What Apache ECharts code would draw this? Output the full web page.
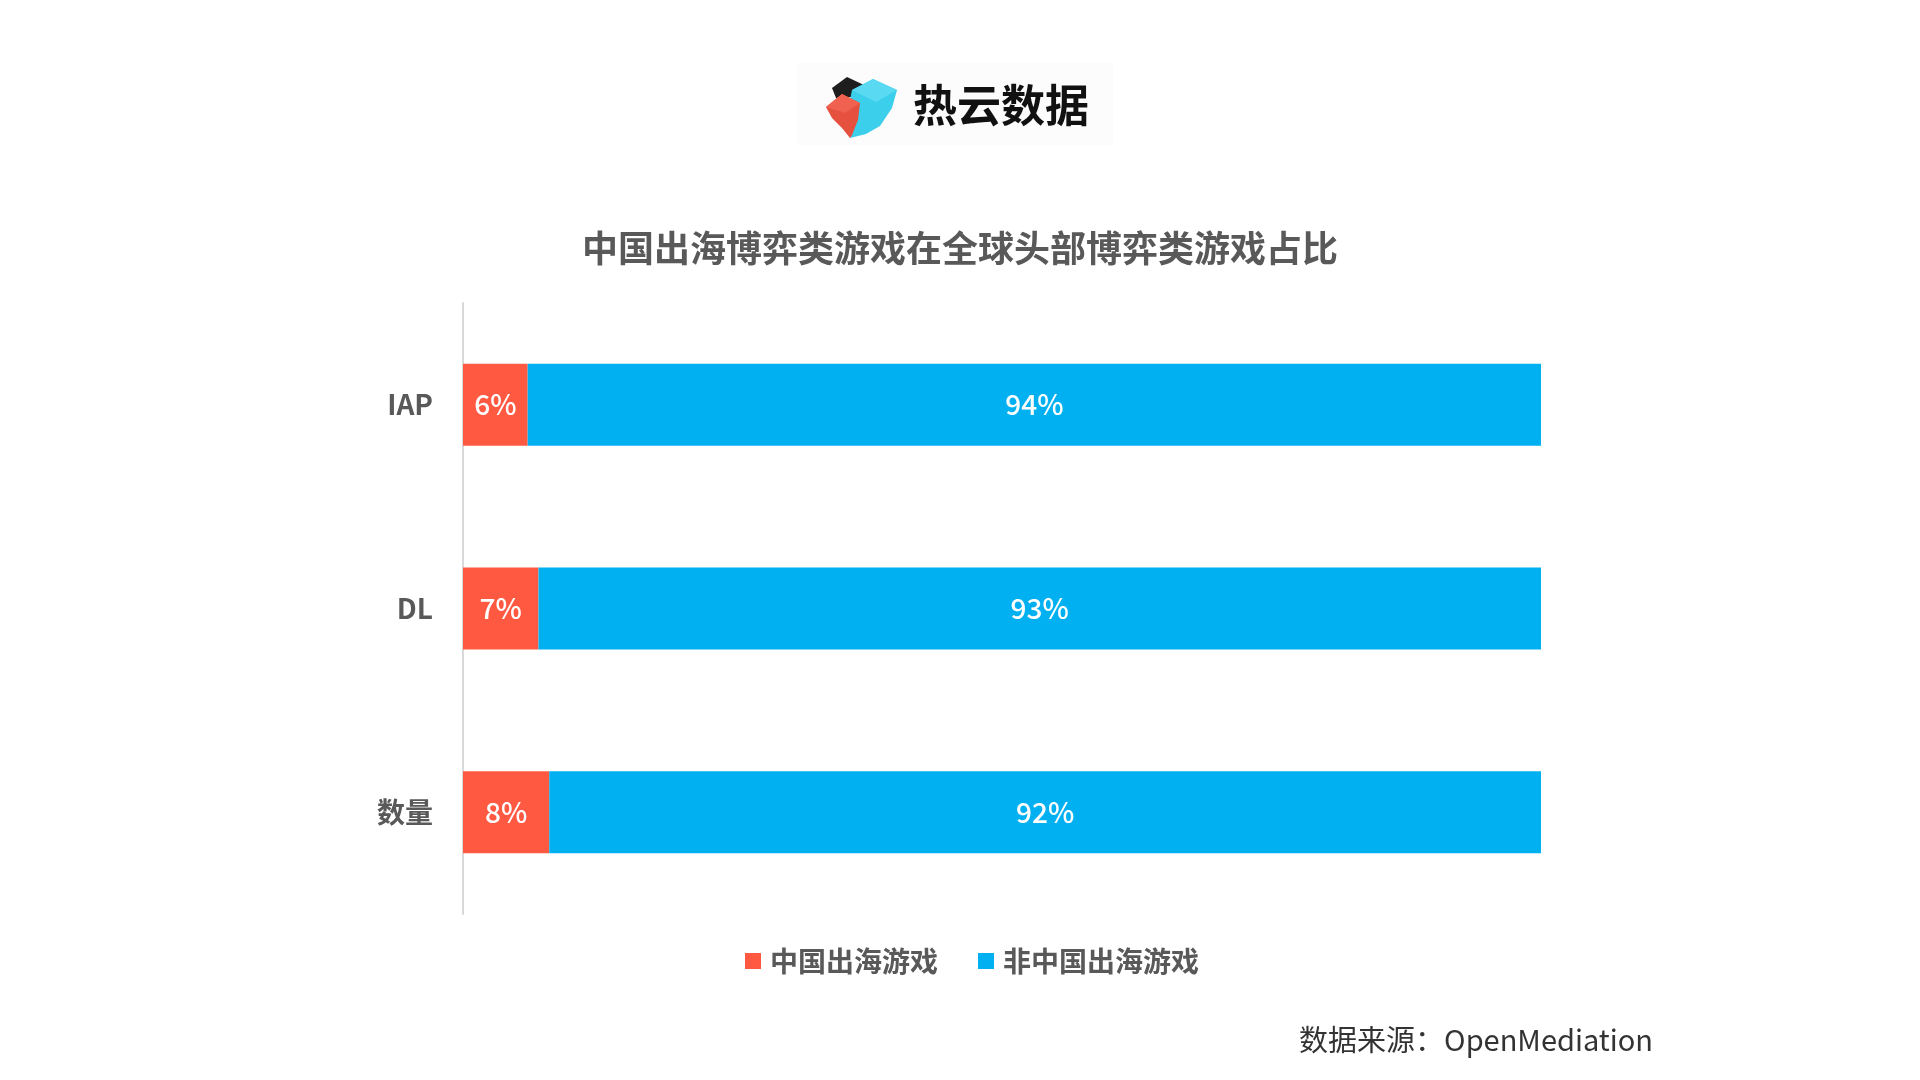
<!DOCTYPE html>
<html>
<head>
<meta charset="utf-8">
<script src="https://cdn.jsdelivr.net/npm/echarts@6/dist/echarts.min.js"></script>
<style>
html,body{margin:0;padding:0;background:#ffffff;}
#chart{width:1920px;height:1080px;}
</style>
</head>
<body>
<div id="chart"></div>
<script>
var categories = ['IAP', 'DL', '数量'];
var chinaValues = [6, 7, 8];
var nonChinaValues = [94, 93, 92];
var seriesNames = ['中国出海游戏', '非中国出海游戏'];
var titleText = '中国出海博弈类游戏在全球头部博弈类游戏占比';
var sourceText = '数据来源：OpenMediation';
var logoText = '热云数据';

var FONT = '"Noto Sans CJK SC", "Noto Sans", sans-serif';
var chart = echarts.init(document.getElementById('chart'));

var option = {
  backgroundColor: '#ffffff',
  animation: false,
  title: {
    text: titleText,
    left: 'center',
    top: 225,
    textStyle: { fontFamily: FONT, fontSize: 36, fontWeight: 'bold', color: '#595959' }
  },
  legend: {
    data: seriesNames,
    left: 740,
    top: 942,
    itemWidth: 16,
    itemHeight: 16,
    itemGap: 40,
    icon: 'rect',
    textStyle: { fontFamily: FONT, fontSize: 28, fontWeight: 'bold', color: '#595959', lineHeight: 28, padding: [0, 0, 0, 4] }
  },
  grid: { left: 463, top: 303, width: 1078, height: 611, containLabel: false },
  xAxis: {
    type: 'value', min: 0, max: 100, show: false
  },
  yAxis: {
    type: 'category',
    data: categories,
    inverse: true,
    axisLine: { show: true, lineStyle: { color: '#d9d9d9', width: 2 } },
    axisTick: { show: false },
    axisLabel: { margin: 30, fontFamily: FONT, fontSize: 28, fontWeight: 'bold', color: '#595959' },
    splitLine: { show: false }
  },
  series: [
    {
      name: seriesNames[0], type: 'bar', stack: 'total', data: chinaValues, barWidth: 82,
      itemStyle: { color: '#FF5A41' },
      label: { show: true, position: 'inside', formatter: '{c}%', color: '#ffffff', fontSize: 28, fontWeight: 500, fontFamily: FONT }
    },
    {
      name: seriesNames[1], type: 'bar', stack: 'total', data: nonChinaValues, barWidth: 82,
      itemStyle: { color: '#00B0F0' },
      label: { show: true, position: 'inside', formatter: '{c}%', color: '#ffffff', fontSize: 28, fontWeight: 500, fontFamily: FONT }
    }
  ],
  graphic: [
    { type: 'rect', shape: { x: 797, y: 63, width: 316, height: 82 }, style: { fill: '#fcfcfc' }, z: -1 },
    // black cube
    { type: 'polygon', shape: { points: [[832,88],[847,77],[864,85],[852,97],[836,98]] }, style: { fill: '#1e1e1e' } },
    // cyan cube
    { type: 'polygon', shape: { points: [[852,90],[873,79],[897,90],[892,108],[880,126],[866,134],[850,138],[848,110]] }, style: { fill: '#3ccfec' } },
    { type: 'polygon', shape: { points: [[852,90],[873,79],[897,90],[876,102]] }, style: { fill: '#5ad9f2' } },
    // red cube
    { type: 'polygon', shape: { points: [[826,107],[842,94],[860,103],[858,120],[852,135],[850,138],[842,128],[832,118]] }, style: { fill: '#e6503e' } },
    { type: 'polygon', shape: { points: [[826,107],[842,94],[860,103],[845,113]] }, style: { fill: '#f0624f' } },
    { type: 'text', style: { x: 913, y: 105, text: logoText, fontFamily: FONT, fontSize: 44, fontWeight: 'bold', fill: '#111111', textVerticalAlign: 'middle', verticalAlign: 'middle' } },
    { type: 'text', style: { x: 1653, y: 1040, text: sourceText, fontFamily: FONT, fontSize: 29, fill: '#333333', align: 'right', textAlign: 'right', verticalAlign: 'middle', textVerticalAlign: 'middle' } }
  ]
};
chart.setOption(option);
</script>
</body>
</html>
